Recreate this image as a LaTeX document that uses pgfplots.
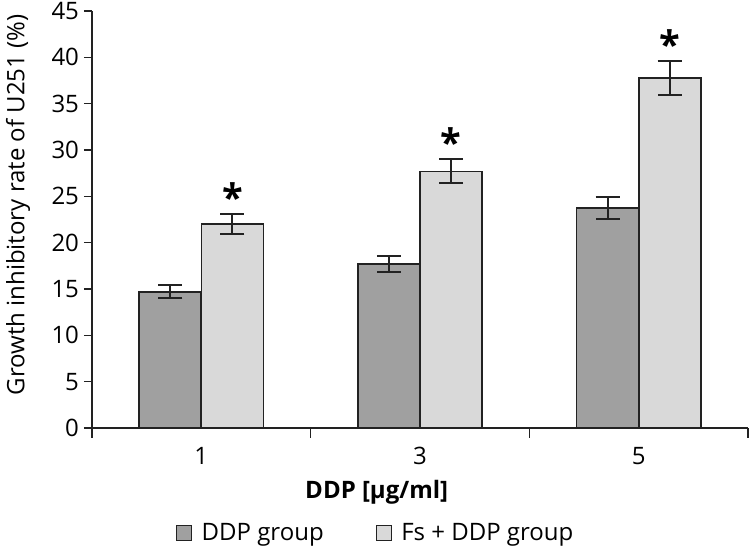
\documentclass[border=0pt]{standalone}
\usepackage{fontspec}
\setmainfont{Open Sans}
\usepackage{pgfplots}
\pgfplotsset{compat=1.18}
\definecolor{darkbar}{HTML}{A0A0A0}
\definecolor{lightbar}{HTML}{D9D9D9}
\definecolor{edge}{HTML}{222222}
\begin{document}
\begin{tikzpicture}[font=\fontsize{12bp}{14bp}\selectfont]
\begin{axis}[
  at={(0,0)}, anchor=south west,
  scale only axis, width=328bp, height=208.5bp,
  xmin=-0.5, xmax=2.5, ymin=0, ymax=45,
  axis x line=bottom, axis y line=left,
  axis line style={-, line width=0.8bp, edge},
  ytick={0,5,...,45},
  xtick={0,1,2}, xticklabels={1,3,5},
  minor xtick={-0.5,0.5,1.5,2.5},
  tick align=outside,
  major tick length=4bp, minor tick length=5bp,
  tick style={line width=0.8bp, edge},
  every major x tick/.append style={draw=none},
  /pgf/number format/assume math mode=true,
  xticklabel style={yshift=-2bp},
  yticklabel style={xshift=1bp},
  xlabel={\bfseries DDP [µg/ml]},
  xlabel style={at={(axis description cs:0.434,-0.1535)}, anchor=center},
  ylabel={Growth inhibitory rate of U251 (\%)},
  ylabel style={at={(axis description cs:-0.1128,0.535)}, anchor=center},
  legend style={at={(axis description cs:0.434,-0.252)}, anchor=center, draw=none,
    legend columns=2, font=\fontsize{12bp}{14bp}\selectfont,
    /tikz/every even column/.append style={column sep=24bp}},
  legend cell align=left,
  clip=false,
]
\addplot[ybar, bar width=31bp, bar shift=0pt, fill=darkbar, draw=edge, line width=0.8bp,
  legend image code/.code={\draw[fill=darkbar, draw=edge, line width=0.6bp] (0bp,-3.6bp) rectangle (7.5bp,3.9bp); \path[draw=none, fill=none] (7.5bp,0bp) -- (10.5bp,0bp);},
  error bars/.cd, y dir=both, y explicit,
  error bar style={line width=1bp, edge},
  error mark options={rotate=90, mark size=6bp, line width=1bp, edge}]
  coordinates {(-0.142,14.7) +- (0,0.7) (0.858,17.7) +- (0,0.9) (1.858,23.75) +- (0,1.15)};
\addlegendentry{DDP group}
\addplot[ybar, bar width=31bp, bar shift=0pt, fill=lightbar, draw=edge, line width=0.8bp,
  legend image code/.code={\draw[fill=lightbar, draw=edge, line width=0.6bp] (0bp,-3.6bp) rectangle (7.5bp,3.9bp); \path[draw=none, fill=none] (7.5bp,0bp) -- (10.5bp,0bp);},
  error bars/.cd, y dir=both, y explicit,
  error bar style={line width=1bp, edge},
  error mark options={rotate=90, mark size=6bp, line width=1bp, edge}]
  coordinates {(0.142,22.0) +- (0,1.1) (1.142,27.7) +- (0,1.3) (2.142,37.75) +- (0,1.85)};
\addlegendentry{Fs + DDP group}
\addplot[draw=none, mark=none, forget plot,
  nodes near coords={\fontsize{19bp}{19bp}\selectfont\bfseries *},
  nodes near coords align={above},
  every node near coord/.append style={inner sep=0pt, yshift=1bp}]
  coordinates {(0.142,23.1) (1.142,29.0) (2.142,39.6)};
\end{axis}
\pgfresetboundingbox
\path (-46bp,-60bp) rectangle (329bp,214bp);
\end{tikzpicture}
\end{document}
